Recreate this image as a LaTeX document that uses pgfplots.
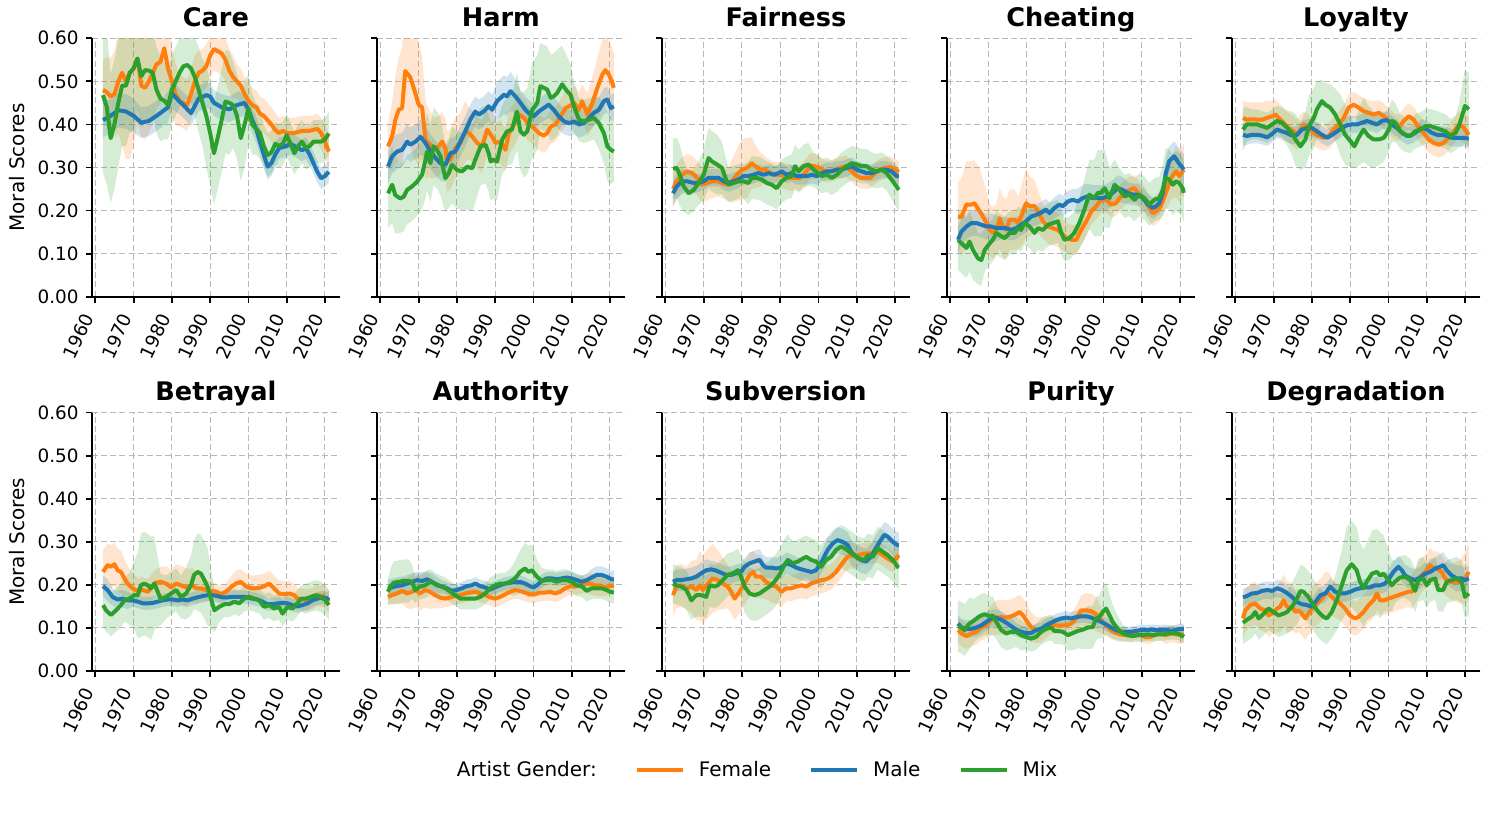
\documentclass[border=0pt]{standalone}
\usepackage{pgfplots}
\pgfplotsset{compat=1.18}
\usepackage{pgfplotstable}
\usepgfplotslibrary{fillbetween}
\usepackage{fontspec}
\setmainfont{DejaVu Sans}
\definecolor{cF}{HTML}{FF7F0E}
\definecolor{cM}{HTML}{1F77B4}
\definecolor{cX}{HTML}{2CA02C}

% ---------------- data: x = year, y = mean score, e = half-width of band
% Care
\pgfplotstableread[row sep=\\]{x y e\\
1962 0.48 0.07\\ 1963 0.475 0.08\\ 1964 0.465 0.09\\ 1965 0.47 0.1\\ 1966 0.5 0.12\\ 1967 0.52 0.17\\ 1968 0.5 0.18\\ 1969 0.52 0.2\\ 1970 0.53 0.18\\ 1971 0.553 0.15\\ 1972 0.49 0.12\\ 1973 0.485 0.12\\ 1974 0.5 0.12\\ 1975 0.52 0.12\\ 1976 0.54 0.1\\ 1977 0.545 0.1\\ 1978 0.577 0.1\\ 1979 0.53 0.1\\ 1980 0.5 0.08\\ 1981 0.47 0.07\\ 1982 0.455 0.06\\ 1983 0.45 0.06\\ 1984 0.445 0.06\\ 1985 0.47 0.06\\ 1986 0.5 0.06\\ 1987 0.52 0.05\\ 1988 0.525 0.05\\ 1989 0.535 0.05\\ 1990 0.56 0.05\\ 1991 0.575 0.05\\ 1992 0.57 0.05\\ 1993 0.565 0.05\\ 1994 0.55 0.05\\ 1995 0.525 0.05\\ 1996 0.51 0.05\\ 1997 0.5 0.04\\ 1998 0.49 0.04\\ 1999 0.47 0.04\\ 2000 0.455 0.04\\ 2001 0.445 0.04\\ 2002 0.44 0.04\\ 2003 0.425 0.04\\ 2004 0.42 0.04\\ 2005 0.41 0.04\\ 2006 0.4 0.04\\ 2007 0.387 0.04\\ 2008 0.38 0.035\\ 2009 0.385 0.035\\ 2010 0.38 0.035\\ 2012 0.38 0.035\\ 2014 0.385 0.035\\ 2016 0.385 0.035\\ 2018 0.39 0.035\\ 2019 0.38 0.035\\ 2020 0.36 0.04\\ 2021 0.337 0.04\\
}\careF
\pgfplotstableread[row sep=\\]{x y e\\
1962 0.41 0.04\\ 1964 0.42 0.04\\ 1966 0.433 0.04\\ 1968 0.43 0.04\\ 1970 0.42 0.04\\ 1972 0.404 0.035\\ 1974 0.408 0.035\\ 1976 0.42 0.035\\ 1978 0.433 0.035\\ 1979 0.44 0.035\\ 1980 0.472 0.035\\ 1982 0.453 0.03\\ 1983 0.445 0.03\\ 1985 0.426 0.03\\ 1987 0.46 0.03\\ 1989 0.468 0.03\\ 1990 0.465 0.03\\ 1991 0.45 0.03\\ 1993 0.44 0.03\\ 1995 0.435 0.03\\ 1997 0.445 0.03\\ 1999 0.45 0.03\\ 2000 0.435 0.03\\ 2001 0.41 0.03\\ 2002 0.39 0.03\\ 2003 0.36 0.03\\ 2004 0.33 0.03\\ 2005 0.302 0.03\\ 2006 0.31 0.03\\ 2007 0.33 0.03\\ 2008 0.345 0.025\\ 2010 0.35 0.025\\ 2011 0.355 0.025\\ 2012 0.35 0.025\\ 2014 0.34 0.025\\ 2015 0.345 0.025\\ 2016 0.33 0.025\\ 2017 0.31 0.025\\ 2018 0.29 0.025\\ 2019 0.275 0.025\\ 2020 0.28 0.025\\ 2021 0.29 0.025\\
}\careM
\pgfplotstableread[row sep=\\]{x y e\\
1962 0.468 0.18\\ 1963 0.44 0.18\\ 1964 0.368 0.15\\ 1965 0.4 0.15\\ 1966 0.45 0.15\\ 1967 0.49 0.14\\ 1968 0.49 0.14\\ 1969 0.52 0.14\\ 1970 0.53 0.14\\ 1971 0.553 0.12\\ 1972 0.512 0.12\\ 1973 0.526 0.12\\ 1974 0.525 0.12\\ 1975 0.52 0.1\\ 1976 0.48 0.1\\ 1977 0.46 0.1\\ 1978 0.455 0.09\\ 1979 0.445 0.08\\ 1980 0.48 0.08\\ 1981 0.5 0.08\\ 1982 0.52 0.08\\ 1983 0.535 0.08\\ 1984 0.538 0.08\\ 1985 0.53 0.08\\ 1986 0.51 0.09\\ 1987 0.48 0.1\\ 1988 0.45 0.1\\ 1989 0.42 0.12\\ 1990 0.38 0.12\\ 1991 0.333 0.12\\ 1992 0.37 0.12\\ 1993 0.41 0.12\\ 1994 0.453 0.12\\ 1995 0.45 0.12\\ 1996 0.445 0.1\\ 1997 0.42 0.1\\ 1998 0.368 0.1\\ 1999 0.4 0.1\\ 2000 0.437 0.08\\ 2001 0.4 0.07\\ 2002 0.39 0.06\\ 2003 0.38 0.06\\ 2004 0.35 0.05\\ 2005 0.329 0.05\\ 2006 0.335 0.05\\ 2007 0.355 0.05\\ 2008 0.35 0.05\\ 2009 0.355 0.05\\ 2010 0.375 0.05\\ 2011 0.355 0.05\\ 2012 0.333 0.05\\ 2013 0.35 0.05\\ 2014 0.36 0.05\\ 2015 0.345 0.05\\ 2016 0.35 0.05\\ 2017 0.36 0.05\\ 2019 0.36 0.05\\ 2020 0.365 0.05\\ 2021 0.379 0.05\\
}\careX
% Harm
\pgfplotstableread[row sep=\\]{x y e\\
1962 0.349 0.05\\ 1963.1 0.372 0.08\\ 1963.9 0.41 0.1\\ 1964.8 0.434 0.12\\ 1965.7 0.438 0.14\\ 1966.5 0.524 0.15\\ 1967.8 0.51 0.16\\ 1968.9 0.48 0.16\\ 1970 0.446 0.14\\ 1970.9 0.44 0.12\\ 1971.8 0.364 0.09\\ 1972.6 0.357 0.08\\ 1973.9 0.345 0.07\\ 1975.3 0.349 0.07\\ 1976.1 0.36 0.07\\ 1977 0.345 0.07\\ 1977.4 0.314 0.07\\ 1978.3 0.318 0.07\\ 1979.6 0.345 0.07\\ 1980.9 0.357 0.07\\ 1982.2 0.384 0.07\\ 1983.1 0.38 0.06\\ 1984 0.372 0.06\\ 1985.3 0.357 0.06\\ 1986.6 0.349 0.06\\ 1987.9 0.388 0.06\\ 1989.2 0.372 0.06\\ 1990.1 0.357 0.05\\ 1991.4 0.36 0.05\\ 1992.7 0.341 0.05\\ 1993.6 0.38 0.05\\ 1994.9 0.4 0.05\\ 1996.2 0.423 0.05\\ 1997.5 0.415 0.04\\ 1998.8 0.4 0.04\\ 2000.1 0.392 0.04\\ 2001.4 0.38 0.04\\ 2002.7 0.374 0.04\\ 2003.6 0.38 0.04\\ 2004.5 0.395 0.04\\ 2005.8 0.4 0.04\\ 2007.1 0.419 0.04\\ 2008.4 0.438 0.04\\ 2009.7 0.444 0.04\\ 2010.6 0.45 0.04\\ 2011.9 0.434 0.04\\ 2012.7 0.454 0.04\\ 2014.1 0.423 0.05\\ 2015.4 0.45 0.06\\ 2016.7 0.485 0.07\\ 2018 0.516 0.08\\ 2018.8 0.526 0.08\\ 2019.7 0.516 0.08\\ 2020.6 0.497 0.08\\ 2021 0.485 0.08\\
}\harmF
\pgfplotstableread[row sep=\\]{x y e\\
1962 0.302 0.04\\ 1963.1 0.326 0.04\\ 1964.4 0.337 0.04\\ 1965.7 0.341 0.04\\ 1967 0.36 0.04\\ 1967.8 0.353 0.04\\ 1969.2 0.36 0.04\\ 1970.5 0.371 0.04\\ 1971.8 0.357 0.04\\ 1973.1 0.337 0.04\\ 1974.4 0.322 0.04\\ 1975.7 0.31 0.04\\ 1977 0.306 0.04\\ 1978.3 0.333 0.035\\ 1979.6 0.337 0.035\\ 1980.9 0.36 0.035\\ 1982.2 0.384 0.035\\ 1983.5 0.411 0.035\\ 1984.8 0.43 0.035\\ 1985.7 0.423 0.035\\ 1987 0.43 0.035\\ 1988.3 0.442 0.035\\ 1989.2 0.434 0.035\\ 1990.5 0.454 0.045\\ 1992.3 0.469 0.045\\ 1993.1 0.465 0.045\\ 1994 0.477 0.045\\ 1995.3 0.465 0.04\\ 1996.6 0.45 0.03\\ 1997.9 0.434 0.03\\ 1999.2 0.423 0.03\\ 2000.1 0.419 0.03\\ 2001.4 0.43 0.03\\ 2002.7 0.438 0.03\\ 2004 0.446 0.03\\ 2005.3 0.434 0.03\\ 2006.6 0.419 0.03\\ 2008 0.407 0.03\\ 2009.3 0.403 0.03\\ 2010.6 0.407 0.03\\ 2011.9 0.4 0.03\\ 2013.2 0.403 0.03\\ 2014.5 0.415 0.03\\ 2015.8 0.427 0.03\\ 2017.1 0.434 0.03\\ 2018.4 0.454 0.03\\ 2019.3 0.458 0.03\\ 2020.2 0.438 0.03\\ 2021 0.442 0.03\\
}\harmM
\pgfplotstableread[row sep=\\]{x y e\\
1962 0.24 0.08\\ 1963.1 0.26 0.09\\ 1963.9 0.236 0.09\\ 1965.2 0.228 0.08\\ 1966.1 0.232 0.08\\ 1967 0.248 0.08\\ 1968.3 0.256 0.08\\ 1969.6 0.267 0.08\\ 1970.9 0.283 0.08\\ 1971.8 0.318 0.09\\ 1972.2 0.337 0.09\\ 1973.1 0.31 0.09\\ 1973.9 0.349 0.09\\ 1974.8 0.341 0.09\\ 1975.7 0.326 0.09\\ 1977 0.275 0.08\\ 1977.9 0.287 0.08\\ 1978.7 0.306 0.09\\ 1980.1 0.294 0.09\\ 1981.4 0.291 0.09\\ 1982.7 0.302 0.1\\ 1984 0.298 0.1\\ 1984.8 0.318 0.1\\ 1986.2 0.349 0.09\\ 1987.5 0.353 0.09\\ 1988.3 0.333 0.09\\ 1988.8 0.314 0.09\\ 1989.6 0.318 0.09\\ 1990.5 0.314 0.09\\ 1991.8 0.364 0.08\\ 1993.1 0.384 0.08\\ 1994.4 0.388 0.08\\ 1995.7 0.43 0.09\\ 1996.6 0.384 0.09\\ 1997.5 0.376 0.1\\ 1998.4 0.384 0.1\\ 1999.7 0.434 0.11\\ 2001 0.45 0.11\\ 2001.8 0.489 0.1\\ 2002.7 0.485 0.1\\ 2003.6 0.481 0.1\\ 2004.5 0.462 0.1\\ 2005.3 0.465 0.1\\ 2006.2 0.473 0.1\\ 2007.5 0.493 0.09\\ 2008.8 0.477 0.08\\ 2009.7 0.469 0.07\\ 2010.6 0.442 0.06\\ 2011.9 0.411 0.05\\ 2013.2 0.407 0.05\\ 2014.5 0.411 0.05\\ 2015.8 0.415 0.05\\ 2017.1 0.403 0.06\\ 2018.4 0.38 0.07\\ 2019.3 0.349 0.08\\ 2020.2 0.341 0.08\\ 2021 0.337 0.07\\
}\harmX
% Fairness
\pgfplotstableread[row sep=\\]{x y e\\
1962 0.25 0.04\\ 1963 0.268 0.04\\ 1964.3 0.283 0.04\\ 1965.7 0.291 0.04\\ 1967 0.287 0.04\\ 1968.3 0.276 0.04\\ 1969.6 0.26 0.04\\ 1970.9 0.264 0.04\\ 1972.2 0.268 0.04\\ 1973.5 0.268 0.035\\ 1974.8 0.264 0.035\\ 1976.1 0.26 0.035\\ 1977.4 0.268 0.05\\ 1978.7 0.283 0.06\\ 1980 0.295 0.07\\ 1981.3 0.299 0.07\\ 1982.6 0.31 0.06\\ 1983.5 0.303 0.05\\ 1984.8 0.295 0.04\\ 1986.1 0.295 0.03\\ 1987.4 0.287 0.03\\ 1988.7 0.283 0.03\\ 1990 0.283 0.03\\ 1991.3 0.28 0.03\\ 1992.6 0.276 0.03\\ 1993.9 0.276 0.03\\ 1995.2 0.276 0.03\\ 1996.5 0.287 0.03\\ 1997.8 0.303 0.03\\ 1999.1 0.303 0.03\\ 2000.4 0.299 0.025\\ 2001.7 0.291 0.025\\ 2003 0.291 0.025\\ 2004.3 0.295 0.025\\ 2005.7 0.299 0.025\\ 2007 0.303 0.025\\ 2008.3 0.295 0.025\\ 2009.6 0.283 0.025\\ 2010.9 0.276 0.025\\ 2012.2 0.276 0.025\\ 2013.5 0.276 0.025\\ 2014.8 0.287 0.025\\ 2016.1 0.295 0.025\\ 2017.4 0.299 0.025\\ 2018.7 0.301 0.025\\ 2020 0.295 0.025\\ 2021 0.289 0.025\\
}\fairF
\pgfplotstableread[row sep=\\]{x y e\\
1962 0.24 0.03\\ 1963 0.256 0.03\\ 1964.3 0.268 0.03\\ 1965.7 0.268 0.025\\ 1967.4 0.264 0.025\\ 1968.7 0.264 0.02\\ 1970 0.268 0.02\\ 1971.3 0.276 0.02\\ 1972.6 0.276 0.02\\ 1973.9 0.276 0.02\\ 1975.2 0.268 0.02\\ 1976.5 0.264 0.02\\ 1977.8 0.268 0.02\\ 1979.1 0.272 0.02\\ 1980.4 0.28 0.02\\ 1981.7 0.28 0.02\\ 1983 0.283 0.02\\ 1984.3 0.287 0.02\\ 1985.7 0.283 0.02\\ 1987 0.287 0.02\\ 1988.3 0.283 0.02\\ 1989.6 0.287 0.02\\ 1990.4 0.291 0.02\\ 1991.7 0.283 0.02\\ 1993 0.287 0.02\\ 1994.3 0.28 0.02\\ 1995.7 0.28 0.02\\ 1997 0.28 0.02\\ 1998.3 0.283 0.02\\ 1999.6 0.28 0.02\\ 2000.9 0.287 0.02\\ 2002.2 0.291 0.02\\ 2003.5 0.291 0.02\\ 2004.8 0.295 0.02\\ 2006.1 0.295 0.02\\ 2007.4 0.299 0.02\\ 2008.7 0.303 0.02\\ 2010 0.295 0.02\\ 2011.3 0.291 0.02\\ 2012.6 0.287 0.02\\ 2013.9 0.287 0.02\\ 2015.2 0.291 0.02\\ 2016.5 0.295 0.02\\ 2017.8 0.295 0.02\\ 2019.1 0.291 0.02\\ 2020.4 0.28 0.02\\ 2021 0.28 0.02\\
}\fairM
\pgfplotstableread[row sep=\\]{x y e\\
1962 0.297 0.07\\ 1963 0.299 0.07\\ 1963.9 0.28 0.07\\ 1964.8 0.256 0.06\\ 1966.1 0.24 0.05\\ 1967.4 0.248 0.05\\ 1968.7 0.264 0.05\\ 1970 0.283 0.06\\ 1971.3 0.322 0.07\\ 1972.2 0.314 0.07\\ 1973.5 0.307 0.07\\ 1974.8 0.299 0.06\\ 1975.7 0.276 0.05\\ 1976.5 0.26 0.04\\ 1977.8 0.264 0.04\\ 1979.1 0.268 0.04\\ 1980.4 0.268 0.04\\ 1981.7 0.264 0.05\\ 1982.6 0.276 0.05\\ 1983.9 0.276 0.05\\ 1985.2 0.272 0.05\\ 1986.5 0.264 0.05\\ 1987.8 0.26 0.05\\ 1989.1 0.252 0.05\\ 1990.4 0.268 0.05\\ 1991.7 0.276 0.05\\ 1993 0.28 0.05\\ 1993.9 0.303 0.05\\ 1994.8 0.291 0.05\\ 1996.1 0.303 0.05\\ 1997.4 0.307 0.05\\ 1998.7 0.295 0.04\\ 2000 0.287 0.04\\ 2000.9 0.28 0.04\\ 2002.2 0.283 0.04\\ 2003.5 0.276 0.04\\ 2004.8 0.283 0.04\\ 2006.1 0.295 0.04\\ 2007.4 0.303 0.04\\ 2008.7 0.31 0.04\\ 2010 0.307 0.04\\ 2011.3 0.303 0.04\\ 2012.6 0.303 0.04\\ 2013.9 0.295 0.04\\ 2015.2 0.291 0.04\\ 2016.5 0.295 0.04\\ 2017.8 0.287 0.04\\ 2019.1 0.272 0.045\\ 2020.4 0.256 0.05\\ 2021 0.248 0.05\\
}\fairX
% Cheating
\pgfplotstableread[row sep=\\]{x y e\\
1962 0.186 0.08\\ 1962.9 0.185 0.09\\ 1964.2 0.214 0.1\\ 1965.5 0.214 0.1\\ 1966.3 0.217 0.1\\ 1967.7 0.198 0.1\\ 1969 0.179 0.08\\ 1970.3 0.155 0.06\\ 1971.1 0.148 0.06\\ 1972 0.155 0.06\\ 1972.9 0.182 0.07\\ 1973.7 0.163 0.07\\ 1974.6 0.155 0.07\\ 1975.5 0.179 0.07\\ 1976.8 0.179 0.07\\ 1977.7 0.171 0.06\\ 1978.5 0.186 0.07\\ 1979.8 0.217 0.08\\ 1980.7 0.21 0.07\\ 1982 0.21 0.06\\ 1982.9 0.198 0.05\\ 1984.2 0.175 0.04\\ 1985.5 0.163 0.04\\ 1986.8 0.159 0.04\\ 1988.1 0.155 0.04\\ 1989.4 0.144 0.035\\ 1990.3 0.136 0.035\\ 1991.6 0.132 0.035\\ 1992.9 0.132 0.035\\ 1994.2 0.155 0.035\\ 1995.5 0.175 0.035\\ 1996.8 0.198 0.03\\ 1998.1 0.21 0.03\\ 1999.4 0.225 0.03\\ 2000.7 0.225 0.03\\ 2002 0.214 0.03\\ 2003.3 0.217 0.03\\ 2004.2 0.229 0.03\\ 2005.5 0.241 0.03\\ 2006.8 0.248 0.03\\ 2008.1 0.252 0.03\\ 2009.4 0.237 0.03\\ 2010.7 0.225 0.03\\ 2012 0.206 0.03\\ 2012.9 0.194 0.03\\ 2013.7 0.198 0.03\\ 2015 0.21 0.03\\ 2016.3 0.241 0.04\\ 2017.7 0.276 0.05\\ 2019 0.291 0.06\\ 2019.8 0.28 0.06\\ 2020.7 0.291 0.06\\ 2021 0.295 0.06\\
}\cheatF
\pgfplotstableread[row sep=\\]{x y e\\
1962 0.132 0.03\\ 1962.9 0.151 0.03\\ 1964.2 0.163 0.03\\ 1965.5 0.171 0.03\\ 1966.8 0.171 0.03\\ 1968.1 0.167 0.03\\ 1969.4 0.163 0.03\\ 1970.7 0.163 0.03\\ 1972 0.159 0.03\\ 1973.3 0.159 0.025\\ 1974.6 0.159 0.025\\ 1975.9 0.155 0.025\\ 1977.2 0.159 0.025\\ 1978.5 0.167 0.025\\ 1979.8 0.175 0.025\\ 1981.1 0.186 0.025\\ 1982.4 0.19 0.025\\ 1983.7 0.195 0.025\\ 1985 0.202 0.025\\ 1985.9 0.194 0.025\\ 1987.2 0.206 0.025\\ 1988.5 0.214 0.025\\ 1989.4 0.21 0.025\\ 1990.7 0.221 0.025\\ 1992 0.225 0.025\\ 1993.3 0.221 0.03\\ 1994.6 0.229 0.03\\ 1995.9 0.233 0.03\\ 1997.2 0.229 0.03\\ 1998.5 0.229 0.03\\ 1999.8 0.229 0.03\\ 2001.1 0.233 0.03\\ 2002.4 0.241 0.03\\ 2003.7 0.252 0.03\\ 2005 0.248 0.03\\ 2006.3 0.241 0.025\\ 2007.7 0.237 0.025\\ 2009 0.237 0.025\\ 2010.3 0.229 0.025\\ 2011.6 0.214 0.025\\ 2012.9 0.206 0.025\\ 2013.7 0.21 0.025\\ 2014.6 0.217 0.025\\ 2015.5 0.241 0.03\\ 2016.3 0.287 0.035\\ 2017.2 0.315 0.035\\ 2018.5 0.326 0.035\\ 2019.7 0.31 0.035\\ 2020.7 0.299 0.035\\ 2021 0.295 0.035\\
}\cheatM
\pgfplotstableread[row sep=\\]{x y e\\
1962 0.132 0.07\\ 1962.9 0.124 0.07\\ 1964.2 0.113 0.07\\ 1965 0.128 0.07\\ 1965.9 0.109 0.07\\ 1967.2 0.089 0.06\\ 1968.1 0.085 0.06\\ 1969 0.109 0.05\\ 1970.3 0.124 0.05\\ 1971.1 0.132 0.05\\ 1972 0.148 0.05\\ 1973.3 0.14 0.05\\ 1974.2 0.136 0.05\\ 1975.5 0.148 0.05\\ 1976.8 0.148 0.05\\ 1977.7 0.159 0.05\\ 1978.5 0.155 0.05\\ 1979.4 0.171 0.05\\ 1980.7 0.163 0.05\\ 1982 0.148 0.05\\ 1982.9 0.159 0.05\\ 1984.2 0.155 0.05\\ 1985.5 0.167 0.05\\ 1986.8 0.171 0.05\\ 1988.1 0.175 0.05\\ 1989 0.148 0.05\\ 1989.8 0.132 0.05\\ 1991.1 0.136 0.05\\ 1992.4 0.148 0.05\\ 1993.7 0.171 0.06\\ 1995 0.202 0.07\\ 1996.3 0.237 0.08\\ 1997.7 0.229 0.09\\ 1998.5 0.241 0.1\\ 1999.4 0.241 0.1\\ 2000.3 0.252 0.09\\ 2001.6 0.229 0.07\\ 2002.9 0.26 0.06\\ 2004.2 0.248 0.05\\ 2005.5 0.233 0.05\\ 2006.8 0.237 0.05\\ 2008.1 0.225 0.05\\ 2009.4 0.237 0.05\\ 2010.7 0.229 0.05\\ 2012 0.214 0.05\\ 2013.3 0.225 0.05\\ 2014.6 0.229 0.05\\ 2015.5 0.248 0.06\\ 2016.3 0.276 0.07\\ 2017.2 0.272 0.07\\ 2018.1 0.26 0.07\\ 2019 0.268 0.07\\ 2019.8 0.264 0.07\\ 2020.7 0.252 0.07\\ 2021 0.241 0.07\\
}\cheatX
% Loyalty
\pgfplotstableread[row sep=\\]{x y e\\
1962 0.415 0.04\\ 1963 0.411 0.04\\ 1964.4 0.412 0.04\\ 1965.7 0.411 0.04\\ 1967 0.411 0.04\\ 1968.3 0.415 0.04\\ 1969.6 0.419 0.035\\ 1970.5 0.423 0.035\\ 1971.3 0.415 0.035\\ 1972.6 0.404 0.035\\ 1973.9 0.392 0.035\\ 1975.2 0.384 0.035\\ 1976.1 0.376 0.035\\ 1977 0.388 0.035\\ 1977.9 0.4 0.03\\ 1979.2 0.392 0.03\\ 1980.5 0.38 0.03\\ 1981.8 0.373 0.03\\ 1983.1 0.369 0.03\\ 1984.4 0.373 0.03\\ 1985.7 0.388 0.03\\ 1987 0.4 0.03\\ 1988.3 0.415 0.03\\ 1989.6 0.439 0.03\\ 1990.9 0.446 0.03\\ 1992.2 0.439 0.03\\ 1993.5 0.431 0.03\\ 1994.8 0.427 0.03\\ 1996.1 0.423 0.03\\ 1997.5 0.427 0.03\\ 1998.8 0.419 0.03\\ 2000.1 0.408 0.03\\ 2001.4 0.396 0.03\\ 2002.7 0.392 0.03\\ 2004 0.408 0.03\\ 2005.3 0.419 0.03\\ 2006.6 0.411 0.03\\ 2007.9 0.392 0.03\\ 2009.2 0.38 0.03\\ 2010.5 0.365 0.03\\ 2011.8 0.357 0.03\\ 2013.1 0.353 0.03\\ 2014.4 0.357 0.03\\ 2015.7 0.369 0.03\\ 2017.1 0.384 0.03\\ 2018.4 0.4 0.03\\ 2019.7 0.392 0.035\\ 2021 0.376 0.04\\
}\loyF
\pgfplotstableread[row sep=\\]{x y e\\
1962 0.376 0.025\\ 1963 0.373 0.02\\ 1964.4 0.376 0.02\\ 1965.7 0.376 0.02\\ 1967 0.374 0.02\\ 1968.3 0.37 0.02\\ 1969.6 0.378 0.02\\ 1970.9 0.388 0.02\\ 1972.2 0.384 0.02\\ 1973.5 0.38 0.02\\ 1974.8 0.374 0.02\\ 1976.1 0.376 0.02\\ 1977.4 0.388 0.02\\ 1978.7 0.392 0.02\\ 1980 0.392 0.02\\ 1981.3 0.384 0.02\\ 1982.6 0.376 0.02\\ 1984 0.369 0.02\\ 1985.3 0.376 0.02\\ 1986.6 0.384 0.02\\ 1987.9 0.392 0.02\\ 1989.2 0.398 0.02\\ 1990.5 0.4 0.02\\ 1991.8 0.4 0.02\\ 1993.1 0.404 0.02\\ 1994.4 0.408 0.02\\ 1995.7 0.404 0.02\\ 1997 0.4 0.02\\ 1998.3 0.408 0.02\\ 1999.6 0.41 0.02\\ 2000.9 0.4 0.02\\ 2002.2 0.392 0.02\\ 2003.6 0.38 0.02\\ 2004.9 0.373 0.02\\ 2006.2 0.376 0.02\\ 2007.5 0.384 0.02\\ 2008.8 0.392 0.02\\ 2010.1 0.388 0.02\\ 2011.4 0.38 0.02\\ 2012.7 0.376 0.02\\ 2014 0.376 0.02\\ 2015.3 0.373 0.02\\ 2016.6 0.369 0.02\\ 2017.9 0.369 0.02\\ 2019.2 0.369 0.02\\ 2021 0.367 0.02\\
}\loyM
\pgfplotstableread[row sep=\\]{x y e\\
1962 0.388 0.05\\ 1963 0.4 0.04\\ 1964.4 0.4 0.035\\ 1965.7 0.4 0.035\\ 1967 0.396 0.035\\ 1968.3 0.392 0.035\\ 1969.6 0.4 0.035\\ 1970.9 0.408 0.035\\ 1972.2 0.404 0.035\\ 1973.5 0.392 0.04\\ 1974.8 0.38 0.05\\ 1975.7 0.365 0.06\\ 1977 0.349 0.055\\ 1978.3 0.365 0.065\\ 1979.2 0.396 0.07\\ 1980.5 0.415 0.07\\ 1981.3 0.435 0.065\\ 1982.6 0.454 0.05\\ 1983.5 0.446 0.05\\ 1984.8 0.439 0.055\\ 1986.1 0.423 0.06\\ 1987.4 0.4 0.07\\ 1988.7 0.376 0.07\\ 1990.1 0.361 0.06\\ 1991.1 0.349 0.05\\ 1992.2 0.369 0.065\\ 1993.5 0.388 0.075\\ 1994.8 0.373 0.07\\ 1996.1 0.365 0.065\\ 1997.5 0.365 0.06\\ 1998.8 0.369 0.055\\ 2000.1 0.388 0.05\\ 2000.9 0.408 0.05\\ 2001.8 0.404 0.045\\ 2003.1 0.384 0.04\\ 2004.4 0.376 0.04\\ 2005.7 0.373 0.04\\ 2007 0.384 0.04\\ 2008.3 0.388 0.04\\ 2009.7 0.396 0.04\\ 2011 0.396 0.04\\ 2012.3 0.392 0.04\\ 2013.6 0.388 0.04\\ 2014.9 0.384 0.04\\ 2016.2 0.373 0.04\\ 2017.5 0.38 0.04\\ 2018.4 0.396 0.05\\ 2019.2 0.419 0.07\\ 2020 0.443 0.085\\ 2021 0.435 0.085\\
}\loyX
% Betrayal
\pgfplotstableread[row sep=\\]{x y e\\
1962 0.23 0.05\\ 1963.2 0.246 0.05\\ 1964.1 0.242 0.05\\ 1965 0.248 0.05\\ 1965.8 0.234 0.05\\ 1966.7 0.23 0.05\\ 1967.6 0.215 0.045\\ 1968.4 0.203 0.04\\ 1969.7 0.192 0.035\\ 1971.1 0.186 0.03\\ 1972.4 0.188 0.03\\ 1973.7 0.184 0.03\\ 1974.5 0.192 0.03\\ 1975.8 0.205 0.03\\ 1977.1 0.207 0.035\\ 1978.5 0.203 0.04\\ 1979.8 0.194 0.04\\ 1981.1 0.203 0.045\\ 1982.4 0.199 0.045\\ 1983.7 0.194 0.045\\ 1984.5 0.197 0.04\\ 1985.4 0.199 0.04\\ 1986.3 0.192 0.035\\ 1987.6 0.192 0.03\\ 1988.9 0.188 0.025\\ 1990.2 0.186 0.02\\ 1991.5 0.184 0.02\\ 1992.8 0.178 0.02\\ 1994.1 0.184 0.02\\ 1995.4 0.194 0.025\\ 1996.7 0.203 0.03\\ 1998 0.207 0.03\\ 1999.3 0.197 0.03\\ 2000.6 0.192 0.03\\ 2001.9 0.192 0.03\\ 2003.3 0.194 0.03\\ 2004.6 0.199 0.03\\ 2005.4 0.203 0.03\\ 2006.7 0.192 0.03\\ 2008 0.18 0.03\\ 2009.3 0.178 0.03\\ 2010.7 0.18 0.03\\ 2012 0.176 0.025\\ 2012.8 0.168 0.025\\ 2014.1 0.166 0.025\\ 2015.4 0.164 0.025\\ 2016.7 0.168 0.025\\ 2018 0.176 0.025\\ 2019.4 0.174 0.025\\ 2020.7 0.164 0.025\\ 2021 0.161 0.025\\
}\betF
\pgfplotstableread[row sep=\\]{x y e\\
1962 0.197 0.025\\ 1963.2 0.188 0.025\\ 1964.5 0.172 0.02\\ 1965.8 0.166 0.02\\ 1967.1 0.168 0.02\\ 1968.4 0.164 0.02\\ 1969.7 0.164 0.015\\ 1971.1 0.161 0.015\\ 1972.4 0.157 0.015\\ 1973.7 0.157 0.015\\ 1975 0.158 0.015\\ 1976.3 0.161 0.015\\ 1977.6 0.164 0.015\\ 1978.9 0.166 0.015\\ 1980.2 0.166 0.015\\ 1981.5 0.164 0.015\\ 1982.8 0.166 0.015\\ 1984.1 0.164 0.015\\ 1985.4 0.168 0.015\\ 1986.7 0.171 0.015\\ 1988 0.174 0.015\\ 1989.3 0.176 0.015\\ 1990.6 0.176 0.015\\ 1991.9 0.174 0.015\\ 1993.2 0.171 0.015\\ 1994.6 0.171 0.015\\ 1995.9 0.172 0.015\\ 1997.2 0.172 0.015\\ 1998.5 0.172 0.015\\ 1999.8 0.171 0.015\\ 2001.1 0.168 0.015\\ 2002.4 0.166 0.015\\ 2003.7 0.161 0.015\\ 2005 0.155 0.015\\ 2006.3 0.155 0.015\\ 2007.6 0.157 0.015\\ 2008.9 0.158 0.015\\ 2010.2 0.157 0.015\\ 2011.5 0.153 0.015\\ 2012.8 0.15 0.015\\ 2014.1 0.153 0.015\\ 2015.4 0.157 0.015\\ 2016.7 0.164 0.015\\ 2018 0.168 0.015\\ 2019.4 0.171 0.015\\ 2020.7 0.168 0.015\\ 2021 0.171 0.015\\
}\betM
\pgfplotstableread[row sep=\\]{x y e\\
1962 0.153 0.05\\ 1962.8 0.141 0.05\\ 1964.1 0.13 0.05\\ 1965.4 0.141 0.05\\ 1966.7 0.153 0.05\\ 1967.6 0.164 0.05\\ 1968.9 0.168 0.06\\ 1970.2 0.176 0.08\\ 1971.1 0.176 0.1\\ 1971.9 0.199 0.12\\ 1972.8 0.203 0.12\\ 1973.7 0.199 0.12\\ 1974.5 0.192 0.12\\ 1975.4 0.203 0.11\\ 1976.3 0.184 0.08\\ 1977.1 0.166 0.06\\ 1978.5 0.172 0.05\\ 1979.8 0.18 0.05\\ 1981.1 0.188 0.05\\ 1982.4 0.172 0.05\\ 1983.7 0.18 0.06\\ 1985 0.199 0.07\\ 1985.8 0.223 0.08\\ 1986.7 0.23 0.09\\ 1987.6 0.226 0.09\\ 1988.5 0.211 0.09\\ 1989.3 0.196 0.09\\ 1990.2 0.168 0.07\\ 1991.1 0.141 0.05\\ 1992.4 0.149 0.035\\ 1993.7 0.155 0.03\\ 1995 0.155 0.03\\ 1996.3 0.161 0.03\\ 1997.6 0.157 0.03\\ 1998.9 0.168 0.03\\ 2000.2 0.172 0.03\\ 2001.5 0.168 0.03\\ 2002.8 0.164 0.03\\ 2004.1 0.149 0.03\\ 2005.4 0.153 0.03\\ 2006.7 0.145 0.03\\ 2008 0.149 0.03\\ 2008.9 0.133 0.03\\ 2010.2 0.149 0.03\\ 2011.5 0.145 0.03\\ 2012.8 0.157 0.03\\ 2013.7 0.168 0.03\\ 2015 0.168 0.035\\ 2016.3 0.172 0.035\\ 2017.6 0.176 0.035\\ 2018.9 0.172 0.035\\ 2020.2 0.164 0.035\\ 2021 0.153 0.035\\
}\betX
% Authority
\pgfplotstableread[row sep=\\]{x y e\\
1962 0.172 0.02\\ 1963 0.176 0.02\\ 1964.3 0.18 0.025\\ 1965.7 0.186 0.03\\ 1967 0.18 0.035\\ 1968.3 0.184 0.04\\ 1969.1 0.188 0.04\\ 1970.4 0.18 0.04\\ 1971.7 0.188 0.04\\ 1973 0.184 0.04\\ 1974.3 0.176 0.03\\ 1975.7 0.17 0.025\\ 1977 0.168 0.02\\ 1978.3 0.171 0.02\\ 1979.6 0.174 0.02\\ 1980.9 0.176 0.02\\ 1982.2 0.18 0.02\\ 1983.5 0.182 0.02\\ 1984.8 0.184 0.02\\ 1986.1 0.18 0.02\\ 1987.4 0.176 0.02\\ 1988.7 0.171 0.02\\ 1990 0.168 0.02\\ 1991.3 0.172 0.02\\ 1992.6 0.178 0.02\\ 1993.9 0.184 0.02\\ 1995.2 0.188 0.02\\ 1996.5 0.186 0.02\\ 1997.8 0.182 0.02\\ 1999.1 0.178 0.02\\ 2000.4 0.178 0.02\\ 2001.7 0.182 0.02\\ 2003 0.182 0.02\\ 2004.3 0.184 0.02\\ 2005.7 0.18 0.02\\ 2007 0.184 0.02\\ 2008.3 0.192 0.02\\ 2009.6 0.197 0.02\\ 2010.9 0.196 0.02\\ 2012.2 0.199 0.02\\ 2013.5 0.203 0.02\\ 2014.8 0.203 0.025\\ 2016.1 0.199 0.025\\ 2017.4 0.199 0.025\\ 2018.7 0.194 0.02\\ 2020 0.197 0.02\\ 2021 0.199 0.02\\
}\authF
\pgfplotstableread[row sep=\\]{x y e\\
1962 0.192 0.02\\ 1963 0.194 0.02\\ 1964.3 0.197 0.02\\ 1965.7 0.199 0.02\\ 1967 0.203 0.02\\ 1968.3 0.207 0.02\\ 1969.6 0.211 0.02\\ 1970.9 0.209 0.02\\ 1972.2 0.213 0.02\\ 1973.5 0.207 0.02\\ 1974.8 0.199 0.02\\ 1976.1 0.196 0.015\\ 1977.4 0.192 0.015\\ 1978.7 0.186 0.015\\ 1980 0.188 0.015\\ 1981.3 0.192 0.015\\ 1982.6 0.197 0.015\\ 1983.9 0.199 0.015\\ 1984.8 0.203 0.015\\ 1986.1 0.197 0.015\\ 1987.4 0.194 0.015\\ 1988.7 0.189 0.015\\ 1990 0.194 0.015\\ 1991.3 0.199 0.015\\ 1992.6 0.203 0.015\\ 1993.9 0.205 0.015\\ 1995.2 0.207 0.015\\ 1996.5 0.207 0.015\\ 1997.8 0.203 0.015\\ 1999.1 0.197 0.015\\ 2000 0.194 0.015\\ 2000.9 0.199 0.015\\ 2002.2 0.209 0.015\\ 2003.5 0.215 0.015\\ 2004.8 0.215 0.015\\ 2006.1 0.213 0.015\\ 2007.4 0.215 0.015\\ 2008.7 0.217 0.015\\ 2010 0.215 0.015\\ 2011.3 0.211 0.015\\ 2012.6 0.207 0.015\\ 2013.9 0.211 0.015\\ 2015.2 0.217 0.02\\ 2016.5 0.223 0.02\\ 2017.8 0.223 0.02\\ 2019.1 0.219 0.02\\ 2020.4 0.213 0.02\\ 2021 0.213 0.02\\
}\authM
\pgfplotstableread[row sep=\\]{x y e\\
1962 0.184 0.03\\ 1962.6 0.196 0.04\\ 1963.5 0.205 0.05\\ 1964.8 0.207 0.05\\ 1966.1 0.209 0.05\\ 1967.4 0.209 0.05\\ 1968.3 0.207 0.04\\ 1969.1 0.188 0.03\\ 1970.4 0.196 0.03\\ 1971.7 0.199 0.03\\ 1973 0.207 0.03\\ 1974.3 0.203 0.025\\ 1975.7 0.197 0.025\\ 1977 0.192 0.025\\ 1978.3 0.184 0.025\\ 1979.6 0.176 0.025\\ 1980.9 0.168 0.025\\ 1982.2 0.168 0.025\\ 1983.5 0.168 0.025\\ 1984.8 0.168 0.025\\ 1986.1 0.172 0.025\\ 1987.4 0.18 0.025\\ 1988.7 0.192 0.025\\ 1990 0.199 0.025\\ 1991.3 0.203 0.025\\ 1992.6 0.203 0.025\\ 1993.9 0.207 0.03\\ 1995.2 0.215 0.04\\ 1996.5 0.23 0.05\\ 1997.8 0.238 0.06\\ 1998.7 0.23 0.06\\ 1999.6 0.234 0.06\\ 2000.9 0.219 0.04\\ 2002.2 0.209 0.03\\ 2003.5 0.211 0.025\\ 2004.8 0.211 0.025\\ 2006.1 0.207 0.025\\ 2007.4 0.211 0.025\\ 2008.7 0.211 0.025\\ 2010 0.207 0.025\\ 2011.3 0.199 0.025\\ 2012.6 0.197 0.025\\ 2013.9 0.186 0.025\\ 2015.2 0.192 0.025\\ 2016.5 0.192 0.025\\ 2017.8 0.192 0.025\\ 2019.1 0.188 0.025\\ 2020 0.184 0.025\\ 2021 0.182 0.025\\
}\authX
% Subversion
\pgfplotstableread[row sep=\\]{x y e\\
1962 0.176 0.05\\ 1962.9 0.196 0.05\\ 1964.2 0.199 0.05\\ 1965.5 0.192 0.05\\ 1966.8 0.196 0.06\\ 1968.1 0.188 0.07\\ 1969 0.199 0.08\\ 1969.8 0.188 0.08\\ 1971.1 0.203 0.08\\ 1972.4 0.215 0.08\\ 1973.7 0.211 0.07\\ 1975 0.203 0.06\\ 1976.3 0.196 0.05\\ 1977.2 0.184 0.05\\ 1978.1 0.168 0.05\\ 1979.4 0.184 0.05\\ 1980.7 0.203 0.05\\ 1982 0.223 0.05\\ 1982.9 0.23 0.05\\ 1983.7 0.219 0.05\\ 1985 0.219 0.05\\ 1986.3 0.207 0.04\\ 1987.7 0.199 0.04\\ 1989 0.196 0.04\\ 1990.3 0.184 0.035\\ 1991.6 0.192 0.03\\ 1992.9 0.192 0.03\\ 1994.2 0.196 0.03\\ 1995.5 0.199 0.03\\ 1996.8 0.196 0.03\\ 1998.1 0.203 0.03\\ 1999.4 0.207 0.03\\ 2000.7 0.211 0.03\\ 2002 0.213 0.03\\ 2003.3 0.219 0.03\\ 2004.6 0.23 0.03\\ 2005.9 0.246 0.03\\ 2007.2 0.261 0.03\\ 2008.1 0.269 0.03\\ 2009 0.267 0.03\\ 2010.3 0.269 0.025\\ 2011.6 0.272 0.025\\ 2012.9 0.273 0.025\\ 2014.2 0.273 0.025\\ 2015.5 0.277 0.025\\ 2016.8 0.269 0.025\\ 2018.1 0.261 0.025\\ 2019.4 0.254 0.025\\ 2020.3 0.261 0.025\\ 2021 0.269 0.025\\
}\subF
\pgfplotstableread[row sep=\\]{x y e\\
1962 0.207 0.025\\ 1962.9 0.211 0.025\\ 1964.2 0.211 0.025\\ 1965.5 0.213 0.025\\ 1966.8 0.215 0.025\\ 1968.1 0.219 0.025\\ 1969.4 0.227 0.025\\ 1970.7 0.234 0.025\\ 1972 0.236 0.02\\ 1973.3 0.233 0.02\\ 1974.6 0.228 0.02\\ 1975.9 0.223 0.02\\ 1977.2 0.223 0.02\\ 1978.5 0.227 0.02\\ 1979.8 0.23 0.02\\ 1980.7 0.242 0.02\\ 1982 0.25 0.025\\ 1983.3 0.254 0.025\\ 1984.6 0.258 0.025\\ 1985.5 0.246 0.025\\ 1986.3 0.24 0.025\\ 1987.7 0.24 0.025\\ 1989 0.238 0.025\\ 1990.3 0.24 0.025\\ 1991.6 0.25 0.025\\ 1992.9 0.246 0.025\\ 1994.2 0.24 0.025\\ 1995.5 0.236 0.025\\ 1996.8 0.233 0.025\\ 1998.1 0.23 0.025\\ 1999.4 0.234 0.025\\ 2000.3 0.246 0.025\\ 2001.1 0.258 0.025\\ 2002.4 0.281 0.03\\ 2003.7 0.296 0.03\\ 2005 0.304 0.03\\ 2006.3 0.3 0.03\\ 2007.7 0.292 0.03\\ 2008.5 0.277 0.03\\ 2009.8 0.265 0.03\\ 2011.1 0.258 0.03\\ 2012.4 0.254 0.03\\ 2013.7 0.265 0.03\\ 2015 0.285 0.03\\ 2016.3 0.304 0.03\\ 2017.2 0.316 0.03\\ 2018.1 0.312 0.03\\ 2019.4 0.3 0.03\\ 2020.7 0.292 0.03\\ 2021 0.292 0.03\\
}\subM
\pgfplotstableread[row sep=\\]{x y e\\
1962 0.203 0.045\\ 1962.9 0.199 0.045\\ 1964.2 0.196 0.045\\ 1965.5 0.188 0.045\\ 1966.8 0.164 0.045\\ 1968.1 0.176 0.05\\ 1969.4 0.176 0.05\\ 1970.7 0.172 0.05\\ 1971.6 0.199 0.05\\ 1972.9 0.196 0.05\\ 1973.7 0.199 0.05\\ 1975 0.211 0.05\\ 1976.3 0.223 0.05\\ 1977.7 0.227 0.05\\ 1979 0.234 0.05\\ 1979.8 0.219 0.05\\ 1980.7 0.196 0.06\\ 1982 0.18 0.06\\ 1983.3 0.176 0.06\\ 1984.6 0.18 0.06\\ 1985.9 0.188 0.06\\ 1987.2 0.196 0.06\\ 1988.5 0.207 0.06\\ 1989.8 0.223 0.06\\ 1991.1 0.246 0.06\\ 1992 0.258 0.06\\ 1993.3 0.25 0.05\\ 1994.6 0.254 0.05\\ 1995.9 0.261 0.05\\ 1996.8 0.265 0.05\\ 1998.1 0.258 0.05\\ 1999.4 0.254 0.05\\ 2000.7 0.242 0.05\\ 2002 0.258 0.05\\ 2003.3 0.265 0.05\\ 2004.6 0.281 0.05\\ 2005.9 0.289 0.05\\ 2006.8 0.285 0.05\\ 2008.1 0.277 0.05\\ 2009.4 0.269 0.05\\ 2010.7 0.261 0.05\\ 2012 0.258 0.05\\ 2012.9 0.269 0.05\\ 2014.2 0.265 0.05\\ 2015.5 0.285 0.05\\ 2016.8 0.277 0.05\\ 2018.1 0.269 0.05\\ 2019.4 0.258 0.05\\ 2020.7 0.242 0.05\\ 2021 0.24 0.05\\
}\subX
% Purity
\pgfplotstableread[row sep=\\]{x y e\\
1962 0.095 0.03\\ 1962.9 0.087 0.03\\ 1964.2 0.081 0.03\\ 1965.5 0.087 0.03\\ 1966.8 0.091 0.03\\ 1968.1 0.101 0.03\\ 1969.4 0.106 0.03\\ 1970.7 0.118 0.035\\ 1972 0.124 0.04\\ 1973.3 0.125 0.04\\ 1974.6 0.124 0.04\\ 1975.9 0.127 0.04\\ 1977.2 0.132 0.04\\ 1978.1 0.137 0.04\\ 1979 0.129 0.04\\ 1979.8 0.118 0.04\\ 1981.1 0.102 0.035\\ 1982.4 0.095 0.03\\ 1983.7 0.096 0.03\\ 1985 0.101 0.025\\ 1986.3 0.106 0.02\\ 1987.7 0.106 0.02\\ 1989 0.106 0.02\\ 1990.3 0.106 0.02\\ 1991.6 0.11 0.025\\ 1992.9 0.122 0.03\\ 1994.2 0.141 0.035\\ 1995.5 0.141 0.04\\ 1996.8 0.139 0.04\\ 1998.1 0.132 0.04\\ 1999.4 0.118 0.03\\ 2000.7 0.106 0.025\\ 2002 0.095 0.02\\ 2003.3 0.088 0.015\\ 2004.6 0.085 0.015\\ 2005.9 0.083 0.015\\ 2007.2 0.083 0.015\\ 2008.5 0.087 0.015\\ 2009.8 0.083 0.015\\ 2011.1 0.078 0.015\\ 2012.4 0.079 0.015\\ 2013.7 0.085 0.015\\ 2015 0.087 0.015\\ 2016.3 0.083 0.02\\ 2017.7 0.087 0.02\\ 2019 0.085 0.02\\ 2020.3 0.083 0.02\\ 2021 0.087 0.02\\
}\purF
\pgfplotstableread[row sep=\\]{x y e\\
1962 0.11 0.02\\ 1962.9 0.101 0.02\\ 1964.2 0.098 0.02\\ 1965.5 0.098 0.02\\ 1966.8 0.101 0.02\\ 1968.1 0.106 0.02\\ 1969.4 0.114 0.02\\ 1970.7 0.122 0.02\\ 1972 0.124 0.02\\ 1973.3 0.119 0.02\\ 1974.6 0.112 0.02\\ 1975.9 0.104 0.02\\ 1977.2 0.096 0.015\\ 1978.5 0.091 0.015\\ 1979.8 0.088 0.015\\ 1981.1 0.088 0.015\\ 1982.4 0.095 0.015\\ 1983.7 0.098 0.015\\ 1985 0.106 0.015\\ 1986.3 0.112 0.015\\ 1987.7 0.118 0.015\\ 1989 0.122 0.015\\ 1990.3 0.124 0.015\\ 1991.6 0.122 0.015\\ 1992.9 0.125 0.015\\ 1994.2 0.127 0.015\\ 1995.5 0.127 0.015\\ 1996.8 0.124 0.015\\ 1998.1 0.119 0.015\\ 1999.4 0.114 0.015\\ 2000.7 0.108 0.015\\ 2002 0.101 0.015\\ 2003.3 0.095 0.012\\ 2004.6 0.091 0.012\\ 2005.9 0.091 0.012\\ 2007.2 0.091 0.012\\ 2008.5 0.093 0.012\\ 2009.8 0.095 0.012\\ 2011.1 0.095 0.012\\ 2012.4 0.096 0.012\\ 2013.7 0.095 0.012\\ 2015 0.095 0.012\\ 2016.3 0.096 0.012\\ 2017.7 0.093 0.012\\ 2019 0.096 0.012\\ 2020.3 0.098 0.012\\ 2021 0.098 0.012\\
}\purM
\pgfplotstableread[row sep=\\]{x y e\\
1962 0.104 0.06\\ 1962.9 0.101 0.06\\ 1963.7 0.095 0.06\\ 1965 0.11 0.06\\ 1966.3 0.118 0.05\\ 1967.6 0.127 0.05\\ 1968.9 0.132 0.05\\ 1970.3 0.127 0.045\\ 1971.1 0.129 0.045\\ 1972 0.114 0.04\\ 1973.3 0.095 0.04\\ 1974.6 0.087 0.04\\ 1975.9 0.091 0.04\\ 1977.2 0.091 0.035\\ 1978.5 0.083 0.035\\ 1979.8 0.079 0.03\\ 1981.1 0.075 0.03\\ 1982.4 0.079 0.03\\ 1983.7 0.091 0.03\\ 1985 0.098 0.03\\ 1986.3 0.101 0.03\\ 1987.2 0.093 0.03\\ 1988.1 0.093 0.03\\ 1989.4 0.091 0.03\\ 1990.7 0.083 0.035\\ 1992 0.088 0.04\\ 1993.3 0.093 0.04\\ 1994.6 0.096 0.045\\ 1995.9 0.101 0.05\\ 1997.2 0.102 0.05\\ 1998.1 0.122 0.05\\ 1998.9 0.125 0.05\\ 1999.8 0.137 0.06\\ 2000.7 0.145 0.06\\ 2001.6 0.129 0.05\\ 2002.4 0.114 0.04\\ 2003.7 0.098 0.03\\ 2005 0.088 0.02\\ 2006.3 0.083 0.015\\ 2007.7 0.081 0.015\\ 2009 0.083 0.015\\ 2010.3 0.083 0.015\\ 2011.6 0.085 0.015\\ 2012.9 0.083 0.015\\ 2014.2 0.085 0.015\\ 2015.5 0.085 0.015\\ 2016.8 0.087 0.015\\ 2018.1 0.088 0.015\\ 2019.4 0.087 0.015\\ 2020.3 0.083 0.015\\ 2021 0.079 0.015\\
}\purX
% Degradation
\pgfplotstableread[row sep=\\]{x y e\\
1962 0.122 0.05\\ 1962.6 0.141 0.05\\ 1963.9 0.153 0.05\\ 1965.2 0.157 0.05\\ 1966.5 0.145 0.05\\ 1967.8 0.141 0.05\\ 1968.7 0.129 0.05\\ 1970 0.137 0.05\\ 1970.9 0.145 0.055\\ 1971.7 0.149 0.06\\ 1972.6 0.164 0.06\\ 1973.5 0.149 0.06\\ 1974.8 0.149 0.055\\ 1975.7 0.137 0.05\\ 1976.5 0.141 0.05\\ 1977.4 0.133 0.05\\ 1978.3 0.122 0.05\\ 1979.1 0.133 0.05\\ 1980 0.145 0.05\\ 1980.9 0.153 0.05\\ 1981.7 0.16 0.05\\ 1982.6 0.168 0.05\\ 1983.5 0.18 0.05\\ 1984.3 0.18 0.05\\ 1985.2 0.172 0.045\\ 1986.1 0.164 0.04\\ 1987 0.16 0.04\\ 1987.8 0.153 0.04\\ 1988.7 0.145 0.04\\ 1989.6 0.133 0.04\\ 1990.4 0.126 0.04\\ 1991.3 0.122 0.04\\ 1992.2 0.126 0.04\\ 1993.5 0.137 0.04\\ 1994.8 0.153 0.04\\ 1996.1 0.164 0.04\\ 1997 0.18 0.04\\ 1997.8 0.164 0.035\\ 1998.7 0.164 0.035\\ 2000 0.168 0.035\\ 2001.3 0.172 0.035\\ 2002.6 0.176 0.035\\ 2003.9 0.18 0.035\\ 2005.2 0.184 0.035\\ 2006.1 0.184 0.04\\ 2007 0.196 0.04\\ 2008.3 0.219 0.04\\ 2009.6 0.23 0.04\\ 2010.9 0.246 0.04\\ 2011.7 0.238 0.04\\ 2012.6 0.238 0.04\\ 2013.9 0.23 0.04\\ 2014.8 0.215 0.04\\ 2016.1 0.207 0.04\\ 2017.4 0.207 0.045\\ 2018.7 0.207 0.05\\ 2020 0.215 0.06\\ 2021 0.23 0.065\\
}\degF
\pgfplotstableread[row sep=\\]{x y e\\
1962 0.171 0.02\\ 1963 0.174 0.02\\ 1964.3 0.18 0.02\\ 1965.7 0.181 0.02\\ 1967 0.186 0.02\\ 1968.3 0.188 0.02\\ 1969.6 0.186 0.02\\ 1970.9 0.192 0.02\\ 1972.2 0.188 0.02\\ 1973.5 0.181 0.02\\ 1974.8 0.172 0.02\\ 1976.1 0.16 0.02\\ 1977.4 0.155 0.02\\ 1978.7 0.153 0.02\\ 1980 0.149 0.02\\ 1980.9 0.16 0.02\\ 1982.2 0.176 0.02\\ 1983.5 0.18 0.02\\ 1984.8 0.196 0.02\\ 1986.1 0.184 0.02\\ 1987.4 0.18 0.02\\ 1988.7 0.18 0.02\\ 1990 0.184 0.02\\ 1991.3 0.189 0.02\\ 1992.6 0.192 0.02\\ 1993.9 0.194 0.02\\ 1995.2 0.194 0.02\\ 1996.5 0.199 0.02\\ 1997.8 0.199 0.02\\ 1999.1 0.203 0.02\\ 2000 0.212 0.025\\ 2001.3 0.23 0.025\\ 2002.6 0.242 0.025\\ 2003.5 0.234 0.025\\ 2004.3 0.222 0.025\\ 2005.7 0.215 0.025\\ 2007 0.211 0.025\\ 2008.3 0.217 0.025\\ 2009.6 0.226 0.025\\ 2010.9 0.23 0.025\\ 2012.2 0.238 0.025\\ 2013.5 0.242 0.03\\ 2014.3 0.246 0.03\\ 2015.2 0.234 0.03\\ 2016.5 0.222 0.03\\ 2017.8 0.215 0.03\\ 2019.1 0.215 0.03\\ 2020 0.211 0.03\\ 2021 0.215 0.03\\
}\degM
\pgfplotstableread[row sep=\\]{x y e\\
1962 0.112 0.05\\ 1963 0.119 0.05\\ 1964.3 0.126 0.05\\ 1965.2 0.137 0.05\\ 1966.1 0.122 0.05\\ 1967.4 0.133 0.05\\ 1968.7 0.145 0.05\\ 1970 0.137 0.05\\ 1971.3 0.129 0.05\\ 1972.6 0.133 0.05\\ 1973.5 0.137 0.05\\ 1974.8 0.149 0.055\\ 1976.1 0.168 0.06\\ 1977 0.186 0.06\\ 1977.8 0.184 0.06\\ 1979.1 0.172 0.06\\ 1980.4 0.153 0.06\\ 1981.7 0.137 0.06\\ 1983 0.126 0.06\\ 1983.9 0.122 0.06\\ 1985.2 0.137 0.06\\ 1986.5 0.164 0.07\\ 1987.8 0.199 0.08\\ 1989.1 0.234 0.1\\ 1990.4 0.248 0.1\\ 1991.7 0.234 0.1\\ 1992.6 0.207 0.09\\ 1993.5 0.192 0.09\\ 1994.3 0.207 0.09\\ 1995.7 0.226 0.1\\ 1997 0.23 0.1\\ 1997.8 0.222 0.1\\ 1998.7 0.226 0.09\\ 2000 0.211 0.07\\ 2000.9 0.199 0.06\\ 2001.7 0.207 0.05\\ 2003 0.217 0.05\\ 2004.3 0.219 0.05\\ 2005.7 0.211 0.05\\ 2007 0.186 0.05\\ 2007.8 0.211 0.05\\ 2009.1 0.215 0.05\\ 2010 0.199 0.05\\ 2010.9 0.211 0.05\\ 2012.2 0.215 0.05\\ 2013 0.188 0.05\\ 2014.3 0.188 0.05\\ 2015.2 0.207 0.05\\ 2016.5 0.211 0.05\\ 2017.8 0.215 0.05\\ 2019.1 0.207 0.05\\ 2020 0.172 0.05\\ 2021 0.18 0.05\\
}\degX

\newcommand{\band}[2]{%
  \addplot[draw=none, forget plot, name path=u#2] table[x=x, y expr=\thisrow{y}+\thisrow{e}] {#1};
  \addplot[draw=none, forget plot, name path=l#2] table[x=x, y expr=\thisrow{y}-\thisrow{e}] {#1};
  \addplot[fill=#2, fill opacity=0.2, draw=none, forget plot] fill between[of=u#2 and l#2];
}
\newcommand{\trio}[3]{%
  \band{#1}{cF}\band{#2}{cM}\band{#3}{cX}
  \addplot[cF, serie, forget plot] table[x=x, y=y] {#1};
  \addplot[cM, serie, forget plot] table[x=x, y=y] {#2};
  \addplot[cX, serie, forget plot] table[x=x, y=y] {#3};
}

\pgfplotsset{
  serie/.style={line width=2pt, line join=round},
  panel/.style={
    scale only axis, width=124.2pt, height=129.2pt, anchor=south west,
    xmin=1959.05, xmax=2023.95, ymin=0, ymax=0.6,
    axis x line*=bottom, axis y line*=left,
    axis line style={-, line width=0.9pt, black},
    tick align=outside, major tick length=3pt,
    every tick/.style={line width=0.9pt, black},
    xtick={1960,1970,1980,1990,2000,2010,2020},
    ytick={0,0.1,0.2,0.3,0.4,0.5,0.6},
    grid=major,
    major grid style={dash pattern=on 3pt off 1.6pt, line width=0.5pt, black!28},
    /pgf/number format/assume math mode=true,
    xticklabel style={rotate=65, anchor=south east, inner sep=0pt, font=\fontsize{9.2}{11}\selectfont, /pgf/number format/1000 sep={}},
    xticklabel shift=7.5pt,
    yticklabel style={font=\fontsize{9.2}{11}\selectfont, /pgf/number format/.cd, fixed, fixed zerofill, precision=2},
    title style={font=\bfseries\fontsize{12.8}{15}\selectfont, at={(0.5,1)}, anchor=base, yshift=0pt},
    ylabel style={font=\fontsize{11.8}{14}\selectfont},
    every axis y label/.style={at={(axis description cs:-0.3,0.5)}, rotate=90, anchor=center},
  },
  nolab/.style={yticklabels={}},
}

\begin{document}
\begin{tikzpicture}
% top row
\begin{axis}[panel, at={(45.85pt,262.65pt)}, title={Care}, ylabel={Moral Scores}]
\trio{\careF}{\careM}{\careX}
\end{axis}
\begin{axis}[panel, nolab, at={(188.35pt,262.65pt)}, title={Harm}]
\trio{\harmF}{\harmM}{\harmX}
\end{axis}
\begin{axis}[panel, nolab, at={(330.85pt,262.65pt)}, title={Fairness}]
\trio{\fairF}{\fairM}{\fairX}
\end{axis}
\begin{axis}[panel, nolab, at={(473.35pt,262.65pt)}, title={Cheating}]
\trio{\cheatF}{\cheatM}{\cheatX}
\end{axis}
\begin{axis}[panel, nolab, at={(615.85pt,262.65pt)}, title={Loyalty}]
\trio{\loyF}{\loyM}{\loyX}
\end{axis}
% bottom row
\begin{axis}[panel, at={(45.85pt,75.5pt)}, title={Betrayal}, ylabel={Moral Scores}]
\trio{\betF}{\betM}{\betX}
\end{axis}
\begin{axis}[panel, nolab, at={(188.35pt,75.5pt)}, title={Authority}]
\trio{\authF}{\authM}{\authX}
\end{axis}
\begin{axis}[panel, nolab, at={(330.85pt,75.5pt)}, title={Subversion},
  legend columns=-1,
  legend style={at={(0.3635,-0.383)}, anchor=center, draw=none, fill=none,
    font=\fontsize{10}{12}\selectfont,
    /tikz/every odd column/.append style={column sep=5pt},
    /tikz/every even column/.append style={column sep=17pt}},
  legend image code/.code={\draw[#1] (0pt,0pt) -- (23pt,0pt);}]
\trio{\subF}{\subM}{\subX}
\addlegendimage{empty legend}\addlegendentry{Artist Gender:}
\addlegendimage{cF, line width=2pt}\addlegendentry{Female}
\addlegendimage{cM, line width=2pt}\addlegendentry{Male}
\addlegendimage{cX, line width=2pt}\addlegendentry{Mix}
\end{axis}
\begin{axis}[panel, nolab, at={(473.35pt,75.5pt)}, title={Purity}]
\trio{\purF}{\purM}{\purX}
\end{axis}
\begin{axis}[panel, nolab, at={(615.85pt,75.5pt)}, title={Degradation}]
\trio{\degF}{\degM}{\degX}
\end{axis}
\pgfresetboundingbox
\useasboundingbox (0,0) rectangle (748pt,411pt);
\end{tikzpicture}
\end{document}
